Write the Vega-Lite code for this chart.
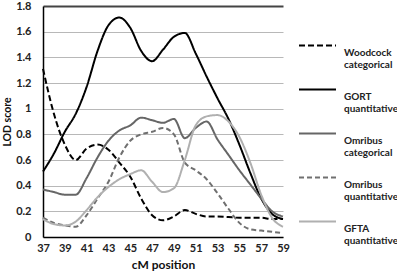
{
  "$schema": "https://vega.github.io/schema/vega-lite/v6.json",
  "width": 240,
  "height": 231,
  "autosize": {"type": "none"},
  "padding": {"left": 43, "top": 6, "right": 114, "bottom": 34},
  "background": "white",
  "config": {
    "view": {"stroke": null},
    "font": "Lato"
  },
  "datasets": {
    "lod": [
      {"cM":37,"s":"Woodcock categorical","LOD":1.31},{"cM":38,"s":"Woodcock categorical","LOD":0.96},{"cM":39,"s":"Woodcock categorical","LOD":0.72},{"cM":40,"s":"Woodcock categorical","LOD":0.60},{"cM":41,"s":"Woodcock categorical","LOD":0.69},{"cM":42,"s":"Woodcock categorical","LOD":0.72},{"cM":43,"s":"Woodcock categorical","LOD":0.68},{"cM":44,"s":"Woodcock categorical","LOD":0.58},{"cM":45,"s":"Woodcock categorical","LOD":0.47},{"cM":46,"s":"Woodcock categorical","LOD":0.30},{"cM":47,"s":"Woodcock categorical","LOD":0.17},{"cM":48,"s":"Woodcock categorical","LOD":0.13},{"cM":49,"s":"Woodcock categorical","LOD":0.16},{"cM":50,"s":"Woodcock categorical","LOD":0.21},{"cM":51,"s":"Woodcock categorical","LOD":0.18},{"cM":52,"s":"Woodcock categorical","LOD":0.16},{"cM":53,"s":"Woodcock categorical","LOD":0.16},{"cM":54,"s":"Woodcock categorical","LOD":0.155},{"cM":55,"s":"Woodcock categorical","LOD":0.15},{"cM":56,"s":"Woodcock categorical","LOD":0.15},{"cM":57,"s":"Woodcock categorical","LOD":0.15},{"cM":58,"s":"Woodcock categorical","LOD":0.14},{"cM":59,"s":"Woodcock categorical","LOD":0.14},
      {"cM":37,"s":"GORT quantitative","LOD":0.51},{"cM":38,"s":"GORT quantitative","LOD":0.65},{"cM":39,"s":"GORT quantitative","LOD":0.82},{"cM":40,"s":"GORT quantitative","LOD":0.96},{"cM":41,"s":"GORT quantitative","LOD":1.17},{"cM":42,"s":"GORT quantitative","LOD":1.45},{"cM":43,"s":"GORT quantitative","LOD":1.65},{"cM":44,"s":"GORT quantitative","LOD":1.71},{"cM":45,"s":"GORT quantitative","LOD":1.63},{"cM":46,"s":"GORT quantitative","LOD":1.45},{"cM":47,"s":"GORT quantitative","LOD":1.37},{"cM":48,"s":"GORT quantitative","LOD":1.46},{"cM":49,"s":"GORT quantitative","LOD":1.56},{"cM":50,"s":"GORT quantitative","LOD":1.59},{"cM":51,"s":"GORT quantitative","LOD":1.43},{"cM":52,"s":"GORT quantitative","LOD":1.25},{"cM":53,"s":"GORT quantitative","LOD":1.08},{"cM":54,"s":"GORT quantitative","LOD":0.92},{"cM":55,"s":"GORT quantitative","LOD":0.72},{"cM":56,"s":"GORT quantitative","LOD":0.50},{"cM":57,"s":"GORT quantitative","LOD":0.30},{"cM":58,"s":"GORT quantitative","LOD":0.18},{"cM":59,"s":"GORT quantitative","LOD":0.14},
      {"cM":37,"s":"Omribus categorical","LOD":0.37},{"cM":38,"s":"Omribus categorical","LOD":0.35},{"cM":39,"s":"Omribus categorical","LOD":0.33},{"cM":40,"s":"Omribus categorical","LOD":0.33},{"cM":41,"s":"Omribus categorical","LOD":0.46},{"cM":42,"s":"Omribus categorical","LOD":0.62},{"cM":43,"s":"Omribus categorical","LOD":0.75},{"cM":44,"s":"Omribus categorical","LOD":0.83},{"cM":45,"s":"Omribus categorical","LOD":0.87},{"cM":46,"s":"Omribus categorical","LOD":0.93},{"cM":47,"s":"Omribus categorical","LOD":0.91},{"cM":48,"s":"Omribus categorical","LOD":0.89},{"cM":49,"s":"Omribus categorical","LOD":0.92},{"cM":50,"s":"Omribus categorical","LOD":0.77},{"cM":51,"s":"Omribus categorical","LOD":0.85},{"cM":52,"s":"Omribus categorical","LOD":0.90},{"cM":53,"s":"Omribus categorical","LOD":0.76},{"cM":54,"s":"Omribus categorical","LOD":0.64},{"cM":55,"s":"Omribus categorical","LOD":0.52},{"cM":56,"s":"Omribus categorical","LOD":0.41},{"cM":57,"s":"Omribus categorical","LOD":0.30},{"cM":58,"s":"Omribus categorical","LOD":0.20},{"cM":59,"s":"Omribus categorical","LOD":0.16},
      {"cM":37,"s":"Omribus quantitative","LOD":0.15},{"cM":38,"s":"Omribus quantitative","LOD":0.11},{"cM":39,"s":"Omribus quantitative","LOD":0.09},{"cM":40,"s":"Omribus quantitative","LOD":0.08},{"cM":41,"s":"Omribus quantitative","LOD":0.17},{"cM":42,"s":"Omribus quantitative","LOD":0.30},{"cM":43,"s":"Omribus quantitative","LOD":0.43},{"cM":44,"s":"Omribus quantitative","LOD":0.62},{"cM":45,"s":"Omribus quantitative","LOD":0.75},{"cM":46,"s":"Omribus quantitative","LOD":0.80},{"cM":47,"s":"Omribus quantitative","LOD":0.82},{"cM":48,"s":"Omribus quantitative","LOD":0.85},{"cM":49,"s":"Omribus quantitative","LOD":0.80},{"cM":50,"s":"Omribus quantitative","LOD":0.58},{"cM":51,"s":"Omribus quantitative","LOD":0.52},{"cM":52,"s":"Omribus quantitative","LOD":0.45},{"cM":53,"s":"Omribus quantitative","LOD":0.34},{"cM":54,"s":"Omribus quantitative","LOD":0.22},{"cM":55,"s":"Omribus quantitative","LOD":0.11},{"cM":56,"s":"Omribus quantitative","LOD":0.06},{"cM":57,"s":"Omribus quantitative","LOD":0.05},{"cM":58,"s":"Omribus quantitative","LOD":0.04},{"cM":59,"s":"Omribus quantitative","LOD":0.03},
      {"cM":37,"s":"GFTA quantitative","LOD":0.14},{"cM":38,"s":"GFTA quantitative","LOD":0.10},{"cM":39,"s":"GFTA quantitative","LOD":0.09},{"cM":40,"s":"GFTA quantitative","LOD":0.12},{"cM":41,"s":"GFTA quantitative","LOD":0.21},{"cM":42,"s":"GFTA quantitative","LOD":0.31},{"cM":43,"s":"GFTA quantitative","LOD":0.39},{"cM":44,"s":"GFTA quantitative","LOD":0.45},{"cM":45,"s":"GFTA quantitative","LOD":0.49},{"cM":46,"s":"GFTA quantitative","LOD":0.52},{"cM":47,"s":"GFTA quantitative","LOD":0.43},{"cM":48,"s":"GFTA quantitative","LOD":0.35},{"cM":49,"s":"GFTA quantitative","LOD":0.38},{"cM":50,"s":"GFTA quantitative","LOD":0.60},{"cM":51,"s":"GFTA quantitative","LOD":0.87},{"cM":52,"s":"GFTA quantitative","LOD":0.94},{"cM":53,"s":"GFTA quantitative","LOD":0.95},{"cM":54,"s":"GFTA quantitative","LOD":0.90},{"cM":55,"s":"GFTA quantitative","LOD":0.78},{"cM":56,"s":"GFTA quantitative","LOD":0.58},{"cM":57,"s":"GFTA quantitative","LOD":0.33},{"cM":58,"s":"GFTA quantitative","LOD":0.15},{"cM":59,"s":"GFTA quantitative","LOD":0.08}
    ]
  },
  "data": {"name": "lod"},
  "mark": {"type": "line", "interpolate": "monotone", "strokeWidth": 2},
  "encoding": {
    "x": {
      "field": "cM", "type": "quantitative",
      "scale": {"domain": [37, 59], "nice": false, "zero": false},
      "axis": {
        "values": [37,39,41,43,45,47,49,51,53,55,57,59],
        "title": "cM position", "grid": false, "ticks": false,
        "labelFlush": false, "labelOverlap": false,
        "domainColor": "#000", "domainWidth": 1.5,
        "labelFontSize": 11, "labelFontWeight": "bold", "labelColor": "#222", "labelPadding": 5,
        "titleFontSize": 12, "titleFontWeight": "bold", "titleColor": "#111", "titlePadding": 6
      }
    },
    "y": {
      "field": "LOD", "type": "quantitative",
      "scale": {"domain": [0, 1.8], "nice": false},
      "axis": {
        "values": [0,0.2,0.4,0.6,0.8,1,1.2,1.4,1.6,1.8],
        "format": "~g",
        "title": "LOD score", "ticks": false, "labelFlush": false, "labelOverlap": false,
        "gridColor": {"condition": {"test": "datum.value > 1.79", "value": "#444"}, "value": "#b8b8b8"},
        "gridWidth": {"condition": {"test": "datum.value > 1.79", "value": 2}, "value": 1},
        "domainColor": "#000", "domainWidth": 1.5,
        "labelFontSize": 11, "labelFontWeight": "bold", "labelColor": "#222", "labelPadding": 12,
        "titleFontSize": 10.5, "titleFontWeight": "bold", "titleColor": "#111", "titleX": -31
      }
    },
    "color": {
      "field": "s", "type": "nominal",
      "scale": {
        "domain": ["Woodcock categorical","GORT quantitative","Omribus categorical","Omribus quantitative","GFTA quantitative"],
        "range": ["#000000","#000000","#666666","#707070","#b0b0b0"]
      },
      "legend": {
        "title": null, "orient": "none", "legendX": 255, "legendY": 20,
        "padding": 0, "symbolType": "stroke", "symbolSize": 1369, "symbolStrokeWidth": 2,
        "labelExpr": "split(datum.label, ' ')",
        "labelFontSize": 10, "labelFontWeight": "bold", "labelColor": "#222", "labelLineHeight": 14,
        "labelBaseline": "middle", "labelOffset": 7, "rowPadding": -7, "labelLimit": 100,
        "encode": {"labels": {"update": {"dy": {"value": 7}}}}
      }
    },
    "strokeDash": {
      "field": "s", "type": "nominal",
      "scale": {
        "domain": ["Woodcock categorical","GORT quantitative","Omribus categorical","Omribus quantitative","GFTA quantitative"],
        "range": [[6,3],[1,0],[1,0],[5,3],[1,0]]
      },
      "legend": null
    }
  }
}
